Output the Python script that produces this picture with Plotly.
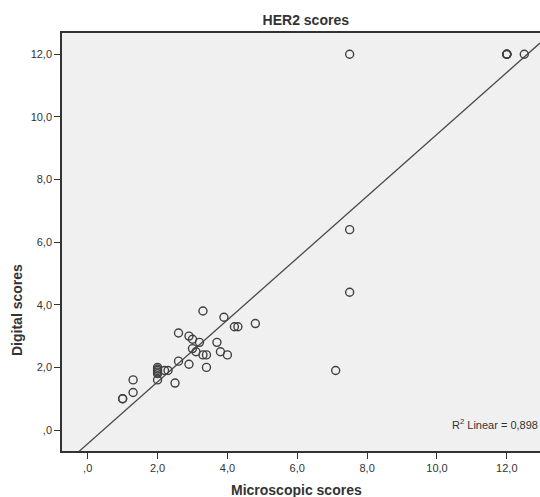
import numpy as np
import plotly.graph_objects as go

# Data
microscopic = [1.0, 1.0, 1.3, 1.3, 2.0, 2.0, 2.0, 2.0, 2.0, 2.0, 2.2, 2.3, 2.5, 2.6, 2.6,
               2.9, 2.9, 3.0, 3.0, 3.1, 3.2, 3.3, 3.3, 3.4, 3.4, 3.7, 3.8, 3.9, 4.0,
               4.2, 4.3, 4.8, 7.1, 7.5, 7.5, 7.5, 12.0, 12.0, 12.0, 12.0, 12.5]
digital = [1.0, 1.0, 1.2, 1.6, 2.0, 1.95, 1.9, 1.85, 1.8, 1.6, 1.9, 1.9, 1.5, 2.2, 3.1,
           2.1, 3.0, 2.9, 2.6, 2.5, 2.8, 3.8, 2.4, 2.4, 2.0, 2.8, 2.5, 3.6, 2.4,
           3.3, 3.3, 3.4, 1.9, 12.0, 6.4, 4.4, 12.0, 12.0, 12.0, 12.0, 12.0]

x_tickvals = [0, 2, 4, 6, 8, 10, 12]
x_ticktext = [",0", "2,0", "4,0", "6,0", "8,0", "10,0", "12,0"]
y_tickvals = [0, 2, 4, 6, 8, 10, 12]
y_ticktext = [",0", "2,0", "4,0", "6,0", "8,0", "10,0", "12,0"]

title_text = "HER2 scores"
x_title = "Microscopic scores"
y_title = "Digital scores"
r2_text = "R<sup>2</sup> Linear = 0,898"

x_range = [-0.736, 12.95]
y_range = [-0.67, 12.68]

slope, intercept = np.polyfit(microscopic, digital, 1)
line_x = np.array(x_range)
line_y = slope * line_x + intercept

FONT = "Liberation Sans, Arial, sans-serif"
DARK = "#333333"

fig = go.Figure()
fig.add_trace(go.Scatter(
    x=line_x, y=line_y, mode="lines",
    line=dict(color="#4a4a4a", width=1.3),
    hoverinfo="skip", showlegend=False,
))
fig.add_trace(go.Scatter(
    x=microscopic, y=digital, mode="markers",
    marker=dict(symbol="circle-open", size=8, color="#404040",
                line=dict(width=1.4, color="#404040")),
    showlegend=False,
))

fig.update_layout(
    width=540, height=497,
    margin=dict(l=62, r=0, t=33, b=46, autoexpand=False),
    paper_bgcolor="white",
    plot_bgcolor="#f0f0f0",
    font=dict(family=FONT, size=11, color=DARK),
    title=dict(text="<b>" + title_text + "</b>", x=0.51, xref="paper", xanchor="center",
               y=1 - 20.5 / 497, yanchor="middle",
               font=dict(size=14, color=DARK, family=FONT)),
    xaxis=dict(range=x_range, tickvals=x_tickvals, ticktext=x_ticktext, automargin=False,
               showgrid=False, zeroline=False, showline=True, mirror=True,
               linecolor=DARK, linewidth=1.5, ticks="outside", ticklen=6,
               tickcolor=DARK, tickwidth=1.2, tickfont=dict(size=11, color=DARK)),
    yaxis=dict(range=y_range, tickvals=y_tickvals, ticktext=y_ticktext, automargin=False,
               showgrid=False, zeroline=False, showline=True, mirror=False,
               linecolor=DARK, linewidth=1.5, ticks="outside", ticklen=6,
               tickcolor=DARK, tickwidth=1.2, tickfont=dict(size=11, color=DARK)),
    annotations=[
        dict(text="<b>" + x_title + "</b>", xref="paper", yref="paper",
             x=(296 - 62) / 478, y=-(490 - 451) / 418, xanchor="center", yanchor="middle",
             showarrow=False, font=dict(size=14, color=DARK, family=FONT)),
        dict(text="<b>" + y_title + "</b>", xref="paper", yref="paper",
             x=-(62 - 17) / 478, y=(451 - 310) / 418, xanchor="center", yanchor="middle",
             textangle=-90, showarrow=False, font=dict(size=14, color=DARK, family=FONT)),
        dict(text=r2_text, xref="paper", yref="paper",
             x=1.0, y=(451 - 424) / 418, xanchor="right", yanchor="middle",
             showarrow=False, font=dict(size=11, color=DARK, family=FONT)),
    ],
)

fig.write_html("out.html", config={"displayModeBar": False},
               post_script="document.body.style.margin='0px';document.body.style.overflow='hidden';")
